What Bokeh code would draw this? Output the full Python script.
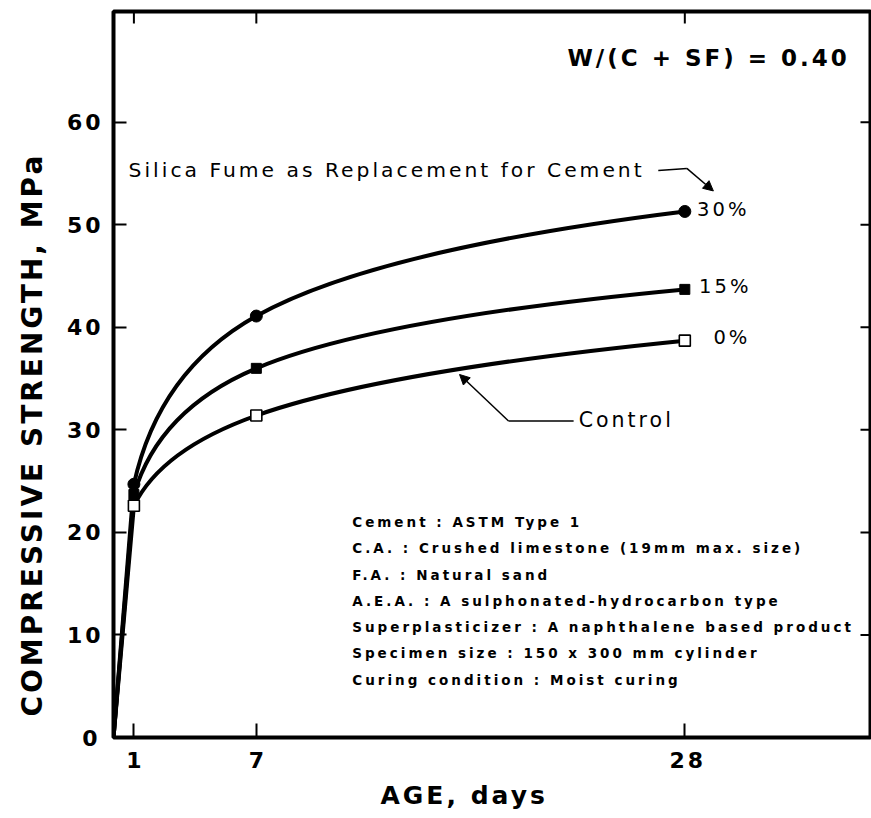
import numpy as np
from bokeh.plotting import figure
from bokeh.models import (Range1d, FixedTicker, Label, Arrow, NormalHead,
                          InlineStyleSheet, Title)
from bokeh.embed import file_html
from bokeh.resources import INLINE

# Compressive strength (MPa) versus age (days), w/(c+sf) = 0.40
age_days = [0, 1, 7, 28]
strength_sf30 = [0, 24.7, 41.1, 51.3]
strength_sf15 = [0, 23.7, 36.0, 43.7]
strength_sf0 = [0, 22.6, 31.4, 38.7]
series_labels = ["30%", "15%", "0%"]

x_ticks = [1, 7, 28]
y_ticks = [0, 10, 20, 30, 40, 50, 60]

notes = [
    "Cement : ASTM Type 1",
    "C.A. : Crushed limestone (19mm max. size)",
    "F.A. : Natural sand",
    "A.E.A. : A sulphonated-hydrocarbon type",
    "Superplasticizer : A naphthalene based product",
    "Specimen size : 150 x 300 mm cylinder",
    "Curing condition : Moist curing",
]

FONT = "DejaVu Sans"
X_MAX = 37.1
Y_MAX = 70.8


def log_age_slopes(x, y):
    """Slopes dy/dx at each point, from 3-point differences taken against ln(age)."""
    u = np.log(np.asarray(x, float))
    y = np.asarray(y, float)
    hu = np.diff(u)
    s = np.diff(y) / hu
    du = np.empty_like(u)
    du[0] = s[0] + (s[0] - s[1]) * hu[0] / (hu[0] + hu[1])
    du[-1] = s[-1] + (s[-1] - s[-2]) * hu[-1] / (hu[-1] + hu[-2])
    for k in range(1, len(u) - 1):
        du[k] = (s[k - 1] * hu[k] + s[k] * hu[k - 1]) / (hu[k - 1] + hu[k])
    return du / np.exp(u)


def quadratic_parts(x, y):
    """Quadratic Bezier pieces; control point where neighbouring tangents meet."""
    x = np.asarray(x, float)
    y = np.asarray(y, float)
    m = log_age_slopes(x, y)
    out = dict(x0=[], y0=[], x1=[], y1=[], cx=[], cy=[])
    for k in range(len(x) - 1):
        cx = (y[k + 1] - y[k] + m[k] * x[k] - m[k + 1] * x[k + 1]) / (m[k] - m[k + 1])
        out["x0"].append(x[k]); out["y0"].append(y[k])
        out["x1"].append(x[k + 1]); out["y1"].append(y[k + 1])
        out["cx"].append(cx); out["cy"].append(y[k] + m[k] * (cx - x[k]))
    return out


p = figure(width=871, height=818, output_backend="svg", toolbar_location=None,
           x_range=Range1d(0, X_MAX), y_range=Range1d(0, Y_MAX),
           min_border_left=113, min_border_right=1,
           min_border_top=11, min_border_bottom=81)
p.stylesheets = [InlineStyleSheet(css=":host { letter-spacing: 3px; }")]

p.background_fill_color = "white"
p.border_fill_color = "white"
p.outline_line_color = "black"
p.outline_line_width = 4
p.xgrid.grid_line_color = None
p.ygrid.grid_line_color = None


def style_axis(ax, tick_len):
    ax.axis_line_color = None
    ax.major_tick_in = tick_len
    ax.major_tick_out = 0
    ax.major_tick_line_width = 2
    ax.major_tick_line_color = "black"
    ax.minor_tick_line_color = None
    ax.major_label_text_font = FONT
    ax.major_label_text_font_style = "bold"
    ax.major_label_text_color = "black"
    ax.major_label_text_font_size = "22px"


xa = p.xaxis[0]
xa.ticker = FixedTicker(ticks=x_ticks)
style_axis(xa, 14)
xa.major_label_standoff = 14

ya = p.yaxis[0]
ya.ticker = FixedTicker(ticks=y_ticks)
style_axis(ya, 13)
ya.major_label_standoff = 16

# axis titles, set off-centre along their axes
p.add_layout(Title(text="AGE, days", align="left", offset=267, standoff=16,
                   text_font=FONT, text_font_size="25px", text_font_style="bold",
                   text_color="black"), "below")
p.add_layout(Title(text="COMPRESSIVE STRENGTH, MPa", align="left", offset=21,
                   standoff=26, vertical_align="top", text_font=FONT,
                   text_font_size="28px", text_font_style="bold",
                   text_color="black"), "left")

# inward ticks on the top and right edges of the frame
p.ray(x=x_ticks, y=[Y_MAX] * len(x_ticks), length=12, length_units="screen",
      angle=-np.pi / 2, line_color="black", line_width=2)
p.ray(x=[X_MAX] * len(y_ticks), y=y_ticks, length=10, length_units="screen",
      angle=np.pi, line_color="black", line_width=2)


def label(x, y, text, size, bold=False):
    p.add_layout(Label(x=x, y=y, text=text, text_font=FONT,
                       text_font_size=size, text_color="black",
                       text_font_style="bold" if bold else "normal",
                       text_align="left", text_baseline="middle"))


# strength development curves: straight rise to day 1, then smooth arcs
for ys in (strength_sf30, strength_sf15, strength_sf0):
    p.segment(x0=age_days[0:1], y0=ys[0:1], x1=age_days[1:2], y1=ys[1:2],
              line_color="black", line_width=4, line_cap="round")
    p.quadratic(**quadratic_parts(age_days[1:], ys[1:]), line_color="black",
                line_width=4, line_cap="round")

p.scatter(age_days[1:], strength_sf30[1:], marker="circle", size=12,
          fill_color="black", line_color="black")
p.scatter(age_days[1:], strength_sf15[1:], marker="square", size=10,
          fill_color="black", line_color="black")
p.scatter(age_days[1:], strength_sf0[1:], marker="square", size=11,
          fill_color="white", line_color="black", line_width=1.6)

label(22.25, 66.3, "W/(C + SF) = 0.40", "23px", bold=True)
label(0.74, 55.3, "Silica Fume as Replacement for Cement", "20.3px")

# series end labels
label(28.6, 51.5, series_labels[0], "19.5px")
label(28.7, 44.0, series_labels[1], "19.5px")
label(29.4, 39.0, series_labels[2], "19.5px")
label(22.8, 31.0, "Control", "20.5px")

# material notes
for i, line in enumerate(notes):
    label(11.7, 21.0 - i * 2.56, line, "13.5px", bold=True)

# leader from the heading to the 30% curve
p.line([26.7, 28.1], [55.3, 55.5], line_color="black", line_width=1.5)
p.add_layout(Arrow(end=NormalHead(size=10, fill_color="black", line_color="black"),
                   x_start=28.1, y_start=55.5, x_end=29.4, y_end=53.3,
                   line_color="black", line_width=1.5))

# leader from "Control" to the 0% curve
p.line([22.55, 19.36], [30.86, 30.86], line_color="black", line_width=1.5)
p.add_layout(Arrow(end=NormalHead(size=10, fill_color="black", line_color="black"),
                   x_start=19.36, y_start=30.86, x_end=16.96, y_end=35.4,
                   line_color="black", line_width=1.5))

open("out.html", "w").write(file_html(p, INLINE))
